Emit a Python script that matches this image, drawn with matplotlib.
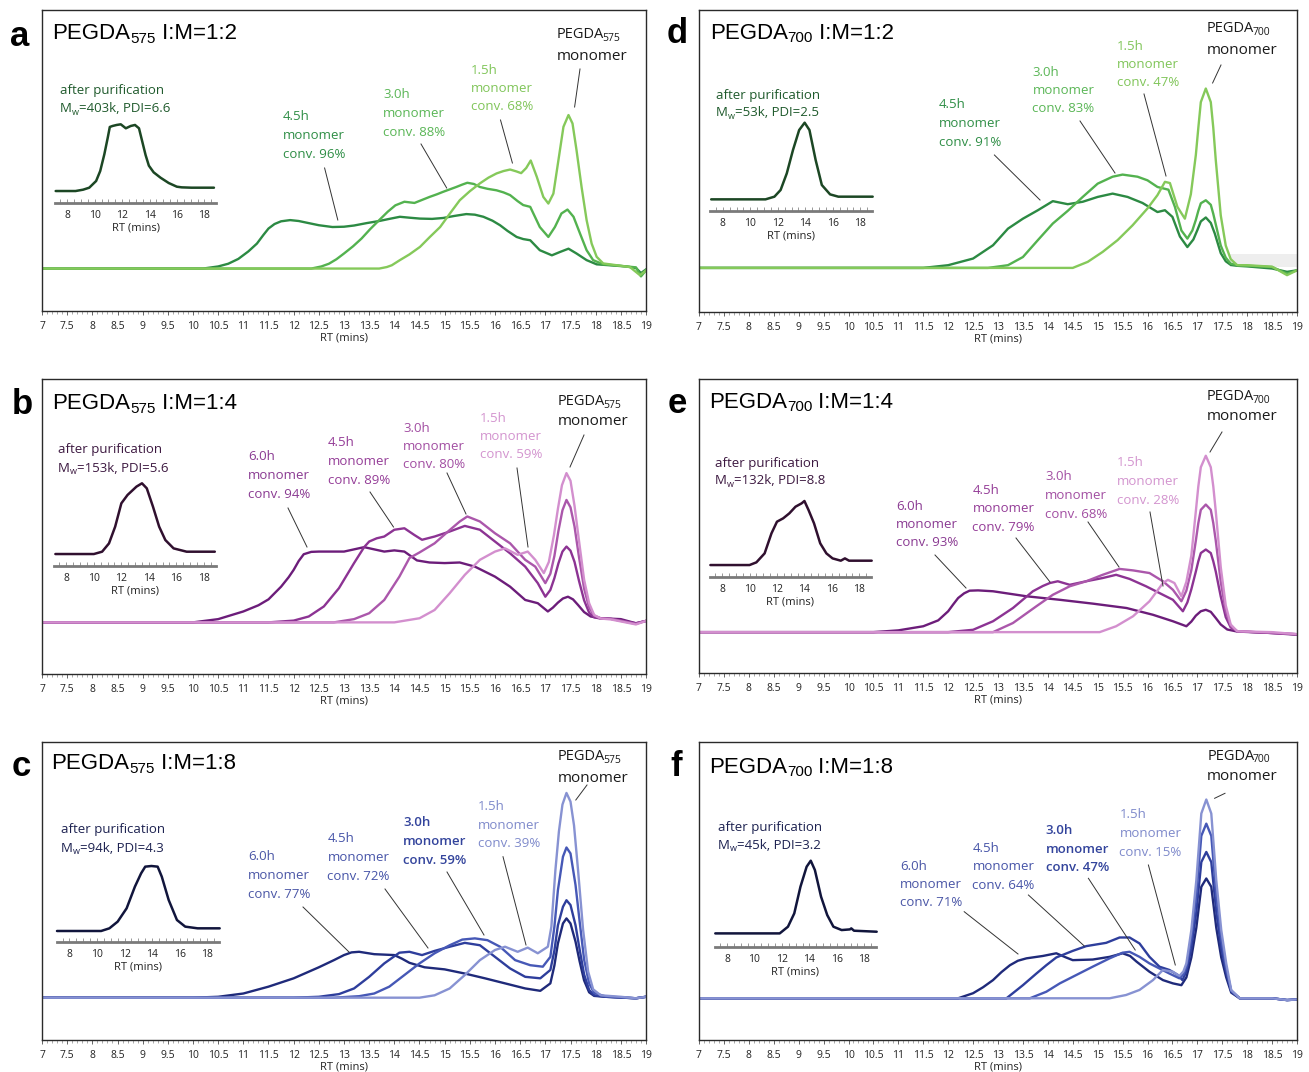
import matplotlib
matplotlib.use("Agg")
import matplotlib.pyplot as plt
from matplotlib.lines import Line2D
from matplotlib.ticker import MultipleLocator

plt.rcParams['font.family'] = ['Open Sans', 'DejaVu Sans']

W, H = 1309, 1072

# ---------------- data (signal in % of panel height, RT in mins) ----------------
# panel a  PEGDA575 I:M=1:2
a_rt_45 = [7.0, 9.0, 10.2, 10.5, 10.7, 10.9, 11.1, 11.27, 11.4, 11.5, 11.62, 11.75, 11.93, 12.1, 12.27, 12.5,
           12.77, 13.0, 13.2, 13.45, 13.7, 13.9, 14.11, 14.3, 14.51, 14.75, 14.97, 15.2, 15.43, 15.6, 15.77,
           15.95, 16.1, 16.25, 16.43, 16.56, 16.7, 16.89, 17.13, 17.29, 17.46, 17.62, 17.82, 18.02, 18.28, 18.6,
           18.8, 18.9, 19.0]
a_sig_45 = [14.1, 14.1, 14.1, 14.8, 15.7, 17.3, 19.8, 22.4, 25.3, 27.4, 28.9, 29.8, 30.2, 29.9, 29.3, 28.5,
            27.9, 28.0, 28.4, 29.2, 29.9, 30.6, 31.3, 31.0, 30.7, 30.6, 30.9, 31.6, 32.2, 32.0, 31.3,
            30.0, 28.5, 26.6, 24.6, 23.9, 23.5, 20.2, 18.5, 19.6, 20.7, 19.1, 16.9, 15.5, 15.2, 14.8,
            14.3, 12.6, 13.8]
a_rt_30 = [7.0, 10.0, 12.35, 12.55, 12.7, 12.85, 13.0, 13.18, 13.35, 13.52, 13.7, 13.87, 14.02, 14.2, 14.4,
           14.55, 14.7, 14.85, 14.97, 15.1, 15.23, 15.35, 15.45, 15.58, 15.7, 15.85, 16.03, 16.17, 16.3, 16.45,
           16.56, 16.7, 16.89, 17.06, 17.19, 17.32, 17.44, 17.56, 17.69, 17.82, 17.95, 18.15, 18.5, 18.8,
           18.9, 19.0]
a_sig_30 = [14.1, 14.1, 14.1, 14.8, 15.7, 17.2, 19.1, 21.5, 24.1, 27.2, 30.2, 33.0, 35.1, 36.3, 35.9,
            36.9, 37.9, 38.8, 39.6, 40.4, 41.2, 42.0, 42.6, 42.2, 41.2, 40.6, 40.1, 39.4, 38.5, 36.5,
            35.2, 34.6, 27.9, 24.6, 27.9, 32.4, 33.7, 31.3, 25.7, 20.2, 16.9, 15.5, 15.0, 14.5,
            11.5, 13.5]
a_rt_15 = [7.0, 10.0, 13.7, 13.85, 13.95, 14.11, 14.3, 14.51, 14.7, 14.91, 15.1, 15.3, 15.5, 15.7, 15.87,
           16.03, 16.17, 16.3, 16.42, 16.52, 16.62, 16.71, 16.83, 16.96, 17.06, 17.16, 17.26, 17.36, 17.46,
           17.54, 17.62, 17.72, 17.82, 17.92, 18.02, 18.15, 18.42, 18.68, 18.88, 19.0]
a_sig_15 = [14.1, 14.1, 14.1, 14.6, 15.2, 16.9, 18.8, 21.3, 24.5, 27.9, 32.3, 36.8, 39.8, 42.4, 44.3,
            45.7, 46.5, 47.0, 46.4, 45.8, 47.5, 50.0, 44.6, 37.9, 35.7, 39.0, 50.1, 61.2, 65.1,
            62.3, 53.4, 41.2, 30.2, 22.4, 18.0, 15.8, 15.2, 14.6, 11.9, 13.5]
a_ins_rt = [7.15, 8.6, 9.15, 9.6, 10.1, 10.4, 10.7, 10.95, 11.1, 11.3, 11.6, 11.9, 12.27, 12.63, 12.94, 13.23,
            13.47, 13.71, 13.95, 14.3, 14.8, 15.4, 15.99, 16.35, 17.06, 18.7]
a_ins = [0, 0, 2, 5, 15, 30, 55, 80, 96, 97.5, 99, 100, 94, 97.5, 99, 94, 74, 54, 38, 28, 20, 12, 6.5, 5.5, 5, 5]

# panel b  PEGDA575 I:M=1:4
b_rt_60 = [7.0, 10.0, 10.5, 11.0, 11.3, 11.5, 11.75, 11.9, 12.0, 12.1, 12.2, 12.35, 12.5, 13.0, 13.4, 13.8,
           14.0, 14.2, 14.45, 14.7, 15.0, 15.3, 15.6, 16.0, 16.3, 16.6, 16.85, 17.05, 17.15, 17.25, 17.35,
           17.45, 17.55, 17.65, 17.77, 17.9, 18.1, 18.5, 18.8, 19.0]
b_sig_60 = [17.5, 17.5, 18.6, 21.2, 23.3, 25.3, 29.6, 32.8, 35.3, 38.3, 40.6, 41.4, 41.5, 41.5, 43.0, 41.5,
            41.9, 41.5, 38.5, 37.8, 37.6, 37.8, 36.4, 33.0, 29.6, 25.1, 24.0, 21.2, 22.5, 24.2, 25.6,
            26.2, 25.3, 23.4, 21.0, 19.5, 18.9, 18.6, 17.2, 18.0]
b_rt_45 = [7.0, 11.5, 12.0, 12.3, 12.6, 12.9, 13.2, 13.4, 13.5, 13.65, 13.8, 14.0, 14.2, 14.4, 14.55, 14.8,
           15.1, 15.4, 15.7, 16.0, 16.3, 16.6, 16.85, 17.0, 17.1, 17.18, 17.26, 17.34, 17.42, 17.5, 17.58,
           17.67, 17.77, 17.87, 17.97, 18.1, 18.3, 18.8, 19.0]
b_sig_45 = [17.5, 17.5, 18.1, 19.5, 22.9, 29.1, 37.6, 43.0, 44.9, 46.0, 46.6, 48.9, 49.4, 47.1, 45.5, 46.6,
            48.3, 50.2, 48.9, 44.9, 40.9, 36.4, 30.8, 26.2, 28.5, 32.5, 37.5, 41.5, 43.2, 41.8, 38.0,
            31.5, 25.0, 20.8, 19.2, 18.8, 18.7, 17.2, 18.0]
b_rt_30 = [7.0, 12.8, 13.2, 13.5, 13.8, 14.1, 14.3, 14.5, 14.8, 15.1, 15.3, 15.45, 15.7, 16.0, 16.3, 16.6,
           16.8, 17.0, 17.1, 17.18, 17.26, 17.34, 17.42, 17.5, 17.58, 17.67, 17.77, 17.87, 17.97, 18.1, 18.3,
           18.8, 19.0]
b_sig_30 = [17.5, 17.5, 18.6, 20.6, 25.1, 33.0, 39.3, 41.2, 44.3, 48.8, 51.7, 53.4, 51.7, 47.7, 44.3, 38.7,
            36.4, 30.8, 34.0, 40.0, 48.5, 55.5, 59.0, 56.5, 50.0, 39.5, 29.0, 22.5, 19.8, 18.9, 18.7,
            17.0, 18.0]
b_rt_15 = [7.0, 14.0, 14.5, 14.8, 15.1, 15.4, 15.7, 16.0, 16.2, 16.45, 16.65, 16.8, 16.97, 17.07, 17.17,
           17.25, 17.33, 17.42, 17.5, 17.58, 17.67, 17.77, 17.87, 17.97, 18.1, 18.3, 18.8, 19.0]
b_sig_15 = [17.5, 17.5, 18.9, 21.7, 27.4, 33.6, 38.7, 41.5, 42.6, 40.4, 41.5, 38.7, 34.2, 38.0, 47.0,
            56.0, 64.0, 68.1, 65.5, 57.0, 45.0, 32.0, 24.0, 20.0, 18.8, 18.5, 16.8, 18.0]
b_ins_rt = [7.2, 10.0, 10.6, 11.1, 11.55, 12.0, 12.45, 13.1, 13.5, 13.85, 14.3, 14.75, 15.2, 15.8, 16.75, 18.8]
b_ins = [0, 0, 3.3, 15, 38.7, 71.7, 83.5, 95.3, 100, 92.9, 67, 38.7, 19.8, 8, 3.3, 3.3]

# panel c  PEGDA575 I:M=1:8
c_rt_60 = [7.0, 10.0, 10.5, 11.0, 11.5, 12.0, 12.5, 12.8, 13.0, 13.15, 13.3, 13.6, 14.0, 14.15, 14.3, 14.6,
           15.0, 15.4, 15.8, 16.2, 16.6, 16.9, 17.1, 17.18, 17.25, 17.35, 17.42, 17.5, 17.6, 17.68, 17.77,
           17.87, 17.97, 18.2, 18.8, 19.0]
c_sig_60 = [14.2, 14.2, 14.5, 15.6, 17.9, 20.7, 24.4, 26.8, 28.5, 29.4, 29.6, 28.8, 28.5, 27.3, 25.9, 24.4,
            23.7, 22.3, 20.7, 19.0, 17.3, 16.5, 19.0, 25.0, 32.4, 39.1, 40.8, 39.1, 33.0, 26.5, 20.0,
            16.0, 14.8, 14.5, 14.0, 14.5]
c_rt_45 = [7.0, 12.0, 12.5, 12.9, 13.2, 13.5, 13.8, 14.1, 14.3, 14.55, 14.8, 15.1, 15.4, 15.7, 16.0, 16.3,
           16.6, 16.9, 17.1, 17.18, 17.25, 17.35, 17.42, 17.5, 17.6, 17.68, 17.77, 17.87, 17.97, 18.2, 18.8, 19.0]
c_sig_45 = [14.2, 14.2, 14.5, 15.4, 17.3, 21.2, 25.7, 29.3, 29.6, 28.5, 29.9, 31.3, 32.6, 31.8, 27.9, 24.0,
            21.2, 20.7, 23.5, 30.0, 38.5, 44.7, 46.9, 45.3, 38.5, 30.5, 22.0, 16.8, 15.0, 14.5, 14.0, 14.5]
c_rt_30 = [7.0, 12.8, 13.3, 13.6, 13.9, 14.2, 14.5, 14.8, 15.1, 15.35, 15.6, 15.85, 16.1, 16.4, 16.7, 16.95,
           17.1, 17.18, 17.25, 17.35, 17.42, 17.5, 17.6, 17.68, 17.77, 17.87, 17.97, 18.2, 18.8, 19.0]
c_sig_30 = [14.2, 14.2, 14.7, 15.6, 17.9, 21.8, 25.7, 29.1, 31.8, 33.7, 34.1, 33.5, 31.3, 26.8, 25.1, 24.6,
            27.9, 38.0, 50.3, 61.5, 64.6, 62.6, 52.0, 40.0, 27.0, 19.0, 15.8, 14.6, 14.0, 14.5]
c_rt_15 = [7.0, 14.5, 14.8, 15.1, 15.4, 15.7, 16.0, 16.2, 16.45, 16.65, 16.85, 17.05, 17.12, 17.2, 17.27,
           17.34, 17.42, 17.5, 17.57, 17.65, 17.75, 17.85, 17.95, 18.1, 18.5, 18.8, 19.0]
c_sig_15 = [14.2, 14.2, 15.0, 17.3, 21.8, 26.8, 30.2, 31.3, 29.6, 31.0, 29.1, 31.3, 38.0, 57.0, 70.0,
            79.0, 82.9, 80.0, 72.0, 57.0, 37.0, 23.0, 17.0, 15.0, 14.5, 14.0, 14.5]
c_ins_rt = [7.1, 10.3, 10.9, 11.5, 12.15, 12.75, 13.2, 13.5, 13.95, 14.4, 14.7, 15.2, 15.8, 16.4, 17.3, 18.9]
c_ins = [0, 0, 4.1, 14.4, 34.9, 68.2, 88.7, 99, 100, 99, 83.6, 47.7, 16.9, 6.7, 4.1, 4.1]

# panel d  PEGDA700 I:M=1:2
d_rt_45 = [7.0, 10.0, 11.5, 12.0, 12.5, 12.9, 13.2, 13.5, 13.8, 14.1, 14.4, 14.7, 15.0, 15.3, 15.6, 15.9,
           16.2, 16.35, 16.5, 16.65, 16.8, 16.92, 17.0, 17.07, 17.17, 17.27, 17.35, 17.47, 17.57, 17.67, 17.8,
           18.0, 18.5, 18.8, 19.0]
d_sig_45 = [14.6, 14.6, 14.6, 15.5, 17.7, 22.1, 27.6, 30.9, 33.7, 36.7, 35.7, 36.5, 38.1, 39.2, 38.1, 36.1,
            33.1, 33.7, 31.5, 25.0, 21.5, 24.0, 27.1, 30.0, 31.3, 29.5, 26.0, 19.5, 16.8, 15.6, 15.3,
            15.1, 14.4, 13.3, 13.8]
d_rt_30 = [7.0, 10.0, 12.8, 13.2, 13.5, 13.8, 14.1, 14.4, 14.7, 15.0, 15.3, 15.5, 15.8, 16.0, 16.2, 16.42,
           16.55, 16.68, 16.8, 16.9, 16.97, 17.02, 17.07, 17.17, 17.27, 17.32, 17.37, 17.47, 17.57, 17.67,
           17.8, 18.0, 18.5, 18.8, 19.0]
d_sig_30 = [14.6, 14.6, 14.6, 15.5, 18.2, 23.8, 29.3, 33.5, 38.1, 42.5, 44.8, 45.5, 44.8, 43.6, 41.4, 40.5,
            34.8, 27.0, 24.3, 27.0, 30.5, 33.5, 36.0, 37.0, 35.5, 32.5, 29.0, 22.0, 18.0, 16.0,
            15.5, 15.3, 14.9, 12.7, 13.8]
d_rt_15 = [7.0, 10.0, 14.5, 14.8, 15.1, 15.4, 15.7, 16.0, 16.2, 16.35, 16.45, 16.6, 16.75, 16.87, 16.97,
           17.02, 17.07, 17.17, 17.27, 17.32, 17.37, 17.47, 17.57, 17.67, 17.8, 18.0, 18.5, 18.8, 19.0]
d_sig_15 = [14.6, 14.6, 14.6, 16.6, 19.9, 23.8, 28.7, 34.3, 38.7, 43.1, 42.7, 34.8, 30.9, 39.0, 52.0,
            61.0, 69.5, 74.0, 69.5, 61.0, 50.3, 32.0, 22.0, 17.5, 15.5, 15.5, 15.0, 12.2, 13.8]
d_ins_rt = [7.15, 11.1, 11.75, 12.2, 12.65, 13.1, 13.55, 13.95, 14.3, 14.75, 15.2, 15.8, 16.4, 18.9]
d_ins = [0, 0, 3.5, 12.2, 33.9, 64.3, 90.4, 100, 90.4, 51.3, 18.7, 6.5, 3.5, 3.5]
d_shade_rt = [17.65, 19.0]

# panel e  PEGDA700 I:M=1:4
e_rt_60 = [7.0, 10.5, 11.0, 11.5, 11.8, 12.0, 12.1, 12.2, 12.32, 12.43, 12.6, 12.9, 13.57, 14.24, 14.9, 15.58,
           16.11, 16.51, 16.78, 16.88, 16.97, 17.07, 17.17, 17.27, 17.37, 17.47, 17.6, 17.8, 18.5, 19.0]
e_sig_60 = [13.9, 13.9, 14.5, 15.9, 17.9, 21.0, 23.3, 25.5, 27.1, 28.0, 28.1, 27.8, 26.1, 24.9, 23.6, 22.1,
            19.8, 17.6, 15.9, 17.5, 19.5, 21.0, 21.5, 20.8, 18.7, 16.5, 14.8, 14.1, 13.6, 13.0]
e_rt_45 = [7.0, 12.0, 12.5, 12.9, 13.3, 13.7, 13.9, 14.04, 14.2, 14.44, 14.77, 15.1, 15.37, 15.64, 15.97, 16.31,
           16.51, 16.71, 16.8, 16.88, 16.97, 17.02, 17.07, 17.17, 17.27, 17.32, 17.37, 17.47, 17.57, 17.67,
           17.8, 18.5, 19.0]
e_sig_45 = [13.9, 13.9, 14.7, 17.6, 22.1, 27.8, 29.6, 30.6, 31.2, 30.0, 31.2, 32.3, 33.4, 32.0, 29.5, 26.6,
            24.9, 21.0, 24.0, 28.5, 34.5, 38.0, 40.8, 42.0, 40.8, 38.0, 34.5, 26.0, 19.0, 15.5,
            14.2, 13.6, 13.2]
e_rt_30 = [7.0, 12.9, 13.3, 13.77, 14.1, 14.44, 14.77, 15.1, 15.44, 15.71, 16.04, 16.31, 16.51, 16.68, 16.78,
           16.88, 16.97, 17.02, 17.07, 17.17, 17.27, 17.32, 17.37, 17.47, 17.57, 17.67, 17.8, 18.5, 19.0]
e_sig_30 = [13.9, 13.9, 17.0, 22.7, 26.6, 29.5, 31.2, 33.4, 35.4, 34.9, 34.0, 31.2, 28.3, 24.4, 28.0,
            35.0, 45.0, 51.0, 55.5, 57.3, 55.5, 51.0, 45.0, 31.0, 21.0, 16.0, 14.2, 13.6, 13.2]
e_rt_15 = [7.0, 15.04, 15.37, 15.71, 16.04, 16.31, 16.41, 16.54, 16.68, 16.78, 16.88, 16.97, 17.02, 17.07,
           17.17, 17.27, 17.32, 17.37, 17.47, 17.57, 17.67, 17.8, 18.5, 19.0]
e_sig_15 = [13.9, 13.9, 15.9, 19.3, 24.4, 30.6, 31.7, 30.6, 26.1, 31.0, 40.0, 55.0, 63.5, 70.0,
            73.9, 70.0, 63.5, 55.0, 36.0, 23.0, 16.5, 14.2, 13.9, 13.2]
e_ins_rt = [7.15, 10.0, 10.5, 11.1, 11.6, 12.0, 12.45, 12.9, 13.35, 13.8, 14.0, 14.3, 14.7, 15.15, 15.6, 16.05,
            16.65, 16.95, 17.25, 18.9]
e_ins = [0, 0, 4.2, 18.2, 49.5, 67.7, 72.9, 80.7, 91.1, 96.4, 100, 85.9, 65.1, 33.9, 18.2, 10.4, 6.8, 10.4,
         6.8, 6.8]

# panel f  PEGDA700 I:M=1:8
f_rt_60 = [7.0, 12.2, 12.5, 12.7, 12.9, 13.07, 13.24, 13.4, 13.57, 13.9, 14.17, 14.35, 14.5, 14.9, 15.24, 15.5,
           15.65, 15.78, 16.04, 16.31, 16.51, 16.68, 16.78, 16.88, 16.98, 17.03, 17.08, 17.18, 17.28, 17.33,
           17.38, 17.48, 17.58, 17.68, 17.85, 18.5, 18.8, 19.0]
f_sig_60 = [14.0, 14.0, 15.7, 17.7, 20.1, 22.8, 25.1, 26.6, 27.4, 28.2, 29.1, 27.8, 26.8, 27.0, 27.9, 29.1,
            28.2, 26.3, 22.9, 20.1, 19.0, 18.4, 21.0, 27.7, 37.7, 44.6, 51.4, 54.2, 51.4, 44.6,
            37.7, 27.7, 21.0, 15.9, 14.0, 14.0, 13.4, 13.6]
f_rt_45 = [7.0, 13.17, 13.5, 13.77, 13.97, 14.17, 14.5, 14.77, 15.17, 15.44, 15.64, 15.84, 16.04, 16.24, 16.44,
           16.61, 16.7, 16.78, 16.88, 16.98, 17.03, 17.08, 17.18, 17.28, 17.33, 17.38, 17.48, 17.58, 17.68,
           17.85, 18.5, 18.8, 19.0]
f_sig_45 = [14.0, 14.0, 18.4, 22.3, 25.1, 27.7, 29.9, 31.5, 32.6, 34.4, 34.4, 32.4, 27.9, 24.6, 23.5,
            21.8, 20.1, 23.0, 30.7, 43.0, 51.3, 59.7, 63.1, 59.7, 51.3, 43.0, 30.7, 22.6, 16.3,
            14.0, 14.0, 13.4, 13.6]
f_rt_30 = [7.0, 13.64, 13.97, 14.24, 14.57, 14.9, 15.24, 15.5, 15.64, 15.84, 16.04, 16.24, 16.44, 16.64, 16.72,
           16.78, 16.88, 16.98, 17.03, 17.08, 17.18, 17.28, 17.33, 17.38, 17.48, 17.58, 17.68, 17.85, 18.5,
           18.8, 19.0]
f_sig_30 = [14.0, 14.0, 16.2, 19.0, 21.8, 24.6, 27.4, 29.3, 29.6, 27.9, 25.7, 24.0, 22.3, 20.7, 22.0,
            24.5, 34.0, 48.6, 58.5, 68.5, 72.6, 68.5, 58.5, 48.6, 34.0, 24.0, 16.5, 14.0, 14.0,
            13.4, 13.6]
f_rt_15 = [7.0, 15.24, 15.57, 15.84, 16.11, 16.31, 16.51, 16.64, 16.72, 16.78, 16.88, 16.98, 17.03, 17.08,
           17.18, 17.28, 17.33, 17.38, 17.48, 17.58, 17.68, 17.85, 18.5, 18.8, 19.0]
f_sig_15 = [14.0, 14.0, 15.1, 16.8, 20.1, 23.5, 22.9, 21.5, 23.0, 25.7, 36.9, 53.6, 64.8, 76.0,
            80.7, 76.0, 64.8, 53.6, 36.9, 25.7, 16.8, 14.0, 14.0, 13.4, 13.6]
f_ins_rt = [7.15, 11.84, 12.44, 12.9, 13.35, 13.8, 14.1, 14.4, 14.85, 15.3, 15.75, 16.35, 16.95, 17.05, 17.25, 18.9]
f_ins = [0, 0, 9.2, 27.5, 64.2, 91.7, 100, 87.2, 50.5, 25.2, 9.2, 4.6, 5.5, 6.9, 3.7, 2.3]

labels_a = [("4.5h", "96%"), ("3.0h", "88%"), ("1.5h", "68%")]
labels_b = [("6.0h", "94%"), ("4.5h", "89%"), ("3.0h", "80%"), ("1.5h", "59%")]
labels_c = [("6.0h", "77%"), ("4.5h", "72%"), ("3.0h", "59%"), ("1.5h", "39%")]
labels_d = [("4.5h", "91%"), ("3.0h", "83%"), ("1.5h", "47%")]
labels_e = [("6.0h", "93%"), ("4.5h", "79%"), ("3.0h", "68%"), ("1.5h", "28%")]
labels_f = [("6.0h", "71%"), ("4.5h", "64%"), ("3.0h", "47%"), ("1.5h", "15%")]
purif = {"a": ("403k", "6.6"), "b": ("153k", "5.6"), "c": ("94k", "4.3"),
         "d": ("53k", "2.5"), "e": ("132k", "8.8"), "f": ("45k", "3.2")}

# colours
greens = ['#2c8a43', '#53b24f', '#85c95a']
purples = ['#6c1d7a', '#8c3393', '#ab57ab', '#d38fce']
blues = ['#1f2a7a', '#2e3e9c', '#4658b6', '#8792d2']
green_txt = ['#2f8e46', '#5ab656', '#80c559']
purple_txt = ['#8a3a92', '#943c97', '#a24ea2', '#d394cf']
blue_txt = ['#4a56a6', '#4654a8', '#33449c', '#7f8acb']
ins_col = {'g': '#1c4724', 'p': '#30102f', 'b': '#11153c'}

fig = plt.figure(figsize=(W / 100, H / 100), dpi=100)


def fx(x):
    return x / W


def fy(y):
    return 1 - y / H


def main_axes(x0, y0, x1, y1):
    ax = fig.add_axes([fx(x0), fy(y1), (x1 - x0) / W, (y1 - y0) / H])
    ax.set_xlim(7, 19)
    ax.set_ylim(0, 100)
    ax.set_yticks([])
    ax.xaxis.set_major_locator(MultipleLocator(0.5))
    ax.xaxis.set_minor_locator(MultipleLocator(0.1))
    ax.xaxis.set_major_formatter(lambda v, p: f"{v:g}")
    ax.tick_params(axis='x', which='major', length=3, width=0.7, color='#666', labelsize=7.5,
                   pad=4, labelcolor='#222')
    ax.tick_params(axis='x', which='minor', length=2, width=0.5, color='#888')
    for s in ax.spines.values():
        s.set_color('#2a2a2a')
        s.set_linewidth(1.0)
    fig.text(fx((x0 + x1) / 2), fy(y1 + 27), 'RT (mins)', fontsize=8, ha='center', va='center', color='#222')
    return ax


def inset(x0, x1, y_axis, y_peak, ybot, rt, sig, col):
    ax = fig.add_axes([fx(x0), fy(y_axis), (x1 - x0) / W, (y_axis - y_peak) / H])
    ax.patch.set_alpha(0)
    ax.set_xlim(7.1, 18.85)
    ax.set_ylim(ybot, 100)
    for k in ('top', 'left', 'right'):
        ax.spines[k].set_visible(False)
    ax.spines['bottom'].set_color('#7a7a7a')
    ax.spines['bottom'].set_linewidth(2.0)
    ax.set_yticks([])
    ax.set_xticks(range(8, 19, 2))
    ax.xaxis.set_minor_locator(MultipleLocator(0.5))
    ax.tick_params(axis='x', which='both', direction='in', length=3, width=0.6, color='#888')
    ax.tick_params(axis='x', which='major', labelsize=7.5, pad=5, labelcolor='#222')
    ax.plot(rt, sig, color=col, lw=1.8, clip_on=False, solid_capstyle='round')
    fig.text(fx((x0 + x1) / 2), fy(y_axis + 25), 'RT (mins)', fontsize=8, ha='center', va='center', color='#222')
    return ax


def rich(ax, x, y, parts, dx=0, **kw):
    first = ax.annotate(parts[0][0], xy=(fx(x), fy(y)), xycoords='figure fraction', fontsize=parts[0][1],
                        va='center', ha='left', annotation_clip=False, **kw)
    prev = first
    for s, size, dy in parts[1:]:
        prev = ax.annotate(s, xy=(1, 0), xycoords=(prev, first), xytext=(dx, dy), textcoords='offset points',
                           fontsize=size, va='bottom', ha='left', annotation_clip=False, **kw)
    return first


def leader(x0, y0, x1, y1):
    fig.add_artist(Line2D([fx(x0), fx(x1)], [fy(y0), fy(y1)], color='#333', lw=0.7))


def label_block(ax, x, ys, time, conv, col, weight='normal'):
    for txt, y in zip([time, 'monomer', 'conv. ' + conv], ys):
        ax.text(fx(x), fy(y), txt, transform=fig.transFigure, fontsize=9.5, color=col,
                ha='left', va='center', fontweight=weight)


def decorate(ax, letter, lx, ly, tx, ty, mw, sub, px, py, col):
    fig.text(fx(lx), fy(ly), letter, fontsize=25, fontweight='bold', family=['Liberation Sans'],
             ha='center', va='center')
    rich(ax, tx, ty, [("PEGDA", 16, 0), (sub, 11, -1), (" I:M=" + mw, 16, 0)], family=['Liberation Sans'])
    ax.text(fx(px), fy(py), 'after purification', transform=fig.transFigure, fontsize=9.5, color=col,
            ha='left', va='center')
    m, pdi = purif[letter]
    rich(ax, px, py + 18, [("M", 9.5, 0), ("w", 6.5, -1), ("=" + m + ", PDI=" + pdi, 9.5, 0)], color=col)


def monomer_label(ax, x, y1, y2, sub):
    rich(ax, x, y1, [("PEGDA", 10.5, 0), (sub, 7.5, -1)], dx=-1.5, color='#1a1a1a')
    ax.text(fx(x), fy(y2), 'monomer', transform=fig.transFigure, fontsize=11, color='#1a1a1a',
            ha='left', va='center')


# ---------------- panel a ----------------
ax = main_axes(42, 10, 646, 311)
for rt, sig, c in zip([a_rt_45, a_rt_30, a_rt_15], [a_sig_45, a_sig_30, a_sig_15], greens):
    ax.plot(rt, sig, color=c, lw=1.7)
inset(55, 216, 202.7, 124.3, -17.5, a_ins_rt, a_ins, ins_col['g'])
decorate(ax, 'a', 20, 36, 52.6, 33.7, '1:2', '575', 60, 90.7, '#1f5a2c')
for (t, cv), x, y0, col in zip(labels_a, [282.7, 383, 470.8], [117, 95, 70], green_txt):
    label_block(ax, x, [y0, y0 + 18.5, y0 + 37], t, cv, col)
monomer_label(ax, 556.8, 35, 56, '575')
leader(324.6, 168, 337.8, 220)
leader(421, 144, 446.7, 188)
leader(500.5, 120, 512.4, 163)
leader(580, 69, 574.6, 107)

# ---------------- panel b ----------------
ax = main_axes(42, 379, 646, 674)
for rt, sig, c in zip([b_rt_60, b_rt_45, b_rt_30, b_rt_15], [b_sig_60, b_sig_45, b_sig_30, b_sig_15], purples):
    ax.plot(rt, sig, color=c, lw=1.7)
inset(54, 215.5, 565.7, 483.3, -16.5, b_ins_rt, b_ins, ins_col['p'])
decorate(ax, 'b', 22, 404, 52.6, 403.7, '1:4', '575', 57.7, 450, '#3c1840')
for (t, cv), x, y0, col in zip(labels_b, [248, 328, 403, 480], [457, 443, 428, 418], purple_txt):
    label_block(ax, x, [y0, y0 + 18.5, y0 + 37], t, cv, col)
monomer_label(ax, 557.7, 401.7, 421.7, '575')
leader(288, 508, 307, 547)
leader(370, 492, 393.5, 527)
leader(447, 473, 466, 514)
leader(517, 468, 528, 547)
leader(584, 435, 570, 467)

# ---------------- panel c ----------------
ax = main_axes(42, 742, 646, 1040)
for rt, sig, c in zip([c_rt_60, c_rt_45, c_rt_30, c_rt_15], [c_sig_60, c_sig_45, c_sig_30, c_sig_15], blues):
    ax.plot(rt, sig, color=c, lw=1.7)
inset(57, 219, 942.3, 866, -17.4, c_ins_rt, c_ins, ins_col['b'])
decorate(ax, 'c', 21, 766.7, 51.3, 763.7, '1:8', '575', 61, 830, '#1c2150')
for i, ((t, cv), x, y0, col) in enumerate(zip(labels_c, [248, 327.4, 403, 477.7], [857, 839, 823, 806.7], blue_txt)):
    label_block(ax, x, [y0, y0 + 18.5, y0 + 37], t, cv, col, weight='semibold' if i == 2 else 'normal')
monomer_label(ax, 557.7, 756.7, 778, '575')
leader(303, 907, 349, 952)
leader(385, 889, 428, 948)
leader(447, 872, 484, 935)
leader(503, 856.7, 526, 945)
leader(587, 785, 575.8, 800)

# ---------------- panel d ----------------
ax = main_axes(699, 10, 1297, 312)
ax.fill_between(d_shade_rt, 14.9, 19.3, color='#eeeeee', lw=0, zorder=0)
for rt, sig, c in zip([d_rt_45, d_rt_30, d_rt_15], [d_sig_45, d_sig_30, d_sig_15], greens):
    ax.plot(rt, sig, color=c, lw=1.7)
inset(710.5, 872, 210.7, 122.7, -14.8, d_ins_rt, d_ins, ins_col['g'])
decorate(ax, 'd', 677.4, 33.3, 709.7, 33.3, '1:2', '700', 716, 95, '#1f5a2c')
for (t, cv), x, y0, col in zip(labels_d, [939, 1032.5, 1117], [105, 72, 46], green_txt):
    label_block(ax, x, [y0, y0 + 18.5, y0 + 37], t, cv, col)
monomer_label(ax, 1207, 29, 50, '700')
leader(994.4, 155, 1040, 200)
leader(1080, 121, 1115, 173)
leader(1144, 94, 1166, 176)
leader(1221, 65, 1212.6, 83)

# ---------------- panel e ----------------
ax = main_axes(699, 379, 1297, 673)
for rt, sig, c in zip([e_rt_60, e_rt_45, e_rt_30, e_rt_15], [e_sig_60, e_sig_45, e_sig_30, e_sig_15], purples):
    ax.plot(rt, sig, color=c, lw=1.7)
inset(709.7, 871, 576.7, 501, -18.2, e_ins_rt, e_ins, ins_col['p'])
decorate(ax, 'e', 677.4, 403.3, 708.8, 402.5, '1:4', '700', 715, 463, '#3c1840')
for (t, cv), x, y0, col in zip(labels_e, [896, 972.5, 1045, 1117], [506, 490, 477, 463], purple_txt):
    label_block(ax, x, [y0, y0 + 18.5, y0 + 37], t, cv, col)
monomer_label(ax, 1207, 397, 417, '700')
leader(935, 555, 966, 588)
leader(1016, 538, 1050, 582)
leader(1088, 522, 1119, 567)
leader(1150, 512, 1163, 586)
leader(1222, 432, 1210, 452)

# ---------------- panel f ----------------
ax = main_axes(699, 742, 1297, 1040)
for rt, sig, c in zip([f_rt_60, f_rt_45, f_rt_30, f_rt_15], [f_sig_60, f_sig_45, f_sig_30, f_sig_15], blues):
    ax.plot(rt, sig, color=c, lw=1.7)
inset(714.6, 876, 946.7, 860.7, -18.3, f_ins_rt, f_ins, ins_col['b'])
decorate(ax, 'f', 676.6, 766.7, 708.8, 767.5, '1:8', '700', 718, 827.3, '#1c2150')
for i, ((t, cv), x, y0, col) in enumerate(zip(labels_f, [900, 972.5, 1045.8, 1119.4], [866, 848.3, 830.7, 815], blue_txt)):
    label_block(ax, x, [y0, y0 + 18.5, y0 + 37], t, cv, col, weight='semibold' if i == 2 else 'normal')
monomer_label(ax, 1207.2, 756, 776.7, '700')
leader(964.2, 911.7, 1018, 954)
leader(1028.4, 895, 1084.3, 946)
leader(1088.4, 878.3, 1135.2, 950)
leader(1148.4, 865, 1175.3, 965)
leader(1225, 793.3, 1214.6, 798.3)

fig.savefig('out.png', dpi=100)
